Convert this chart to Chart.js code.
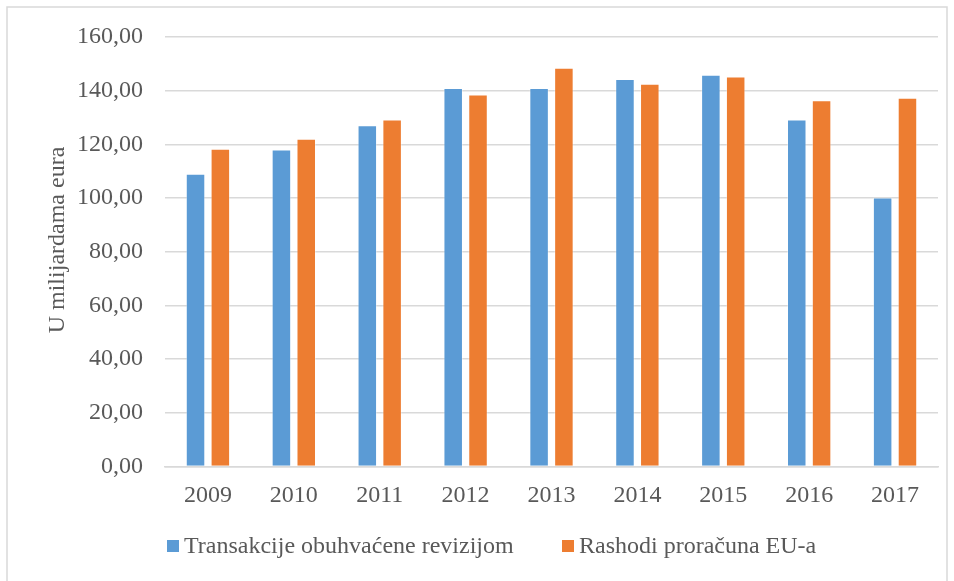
<!DOCTYPE html>
<html>
<head>
<meta charset="utf-8">
<script src="https://cdn.jsdelivr.net/npm/chart.js"></script>
<style>
  html, body { margin: 0; padding: 0; background: #ffffff; }
  #wrap { position: relative; width: 954px; height: 581px; }
</style>
</head>
<body>
<div id="wrap"><canvas id="chart" width="954" height="581"></canvas></div>
<script>
const YEARS = ["2009", "2010", "2011", "2012", "2013", "2014", "2015", "2016", "2017"];
const AUDITED = [109.1, 118.1, 127.1, 141.0, 141.0, 144.4, 145.9, 129.3, 100.2];
const EU_BUDGET = [118.4, 122.1, 129.3, 138.6, 148.5, 142.6, 145.3, 136.4, 137.4];
const SERIES_NAMES = ["Transakcije obuhvaćene revizijom", "Rashodi proračuna EU-a"];
const Y_TICK_LABELS = ["0,00", "20,00", "40,00", "60,00", "80,00", "100,00", "120,00", "140,00", "160,00"];
const Y_TITLE = "U milijardama eura";

const BLUE = "#5b9bd5";
const ORANGE = "#ed7d31";
const TEXT = "#595959";
const GRID = "#d9d9d9";
const FONT = "'Liberation Serif', 'Times New Roman', serif";

// frame, rotated axis title and legend, drawn by hand to sit where the original has them
const decorations = {
  id: "decorations",
  beforeDraw(chart) {
    const ctx = chart.ctx;
    ctx.save();
    ctx.strokeStyle = GRID;
    ctx.lineWidth = 1.5;
    ctx.strokeRect(7, 7, 940, 590);
    ctx.restore();
  },
  afterDraw(chart) {
    const ctx = chart.ctx;
    ctx.save();
    ctx.fillStyle = TEXT;
    ctx.font = `24px ${FONT}`;
    ctx.translate(58, 240);
    ctx.rotate(-Math.PI / 2);
    ctx.textAlign = "center";
    ctx.textBaseline = "middle";
    ctx.fillText(Y_TITLE, 0, 0);
    ctx.restore();

    const items = [
      { box: 167, text: 184 },
      { box: 562, text: 579 },
    ];
    ctx.save();
    ctx.font = `24px ${FONT}`;
    ctx.textBaseline = "middle";
    chart.data.datasets.forEach((ds, i) => {
      ctx.fillStyle = ds.backgroundColor;
      ctx.fillRect(items[i].box, 540, 12, 12);
      ctx.fillStyle = TEXT;
      ctx.fillText(ds.label, items[i].text, 547);
    });
    ctx.restore();
  },
};

new Chart(document.getElementById("chart"), {
  type: "bar",
  data: {
    labels: YEARS,
    datasets: [
      {
        label: SERIES_NAMES[0],
        data: AUDITED,
        backgroundColor: BLUE,
        borderColor: "rgba(255,255,255,0.35)",
        borderWidth: 1,
      },
      {
        label: SERIES_NAMES[1],
        data: EU_BUDGET,
        backgroundColor: ORANGE,
        borderColor: "rgba(255,255,255,0.35)",
        borderWidth: 1,
      },
    ],
  },
  options: {
    responsive: false,
    animation: false,
    devicePixelRatio: 1,
    layout: { padding: { top: 37, right: 16, bottom: 0, left: 0 } },
    datasets: { bar: { categoryPercentage: 0.578, barPercentage: 0.786 } },
    plugins: {
      legend: { display: false },
      tooltip: { enabled: false },
    },
    scales: {
      x: {
        grid: { display: false, drawTicks: false },
        border: { color: GRID, width: 1.5 },
        ticks: { color: TEXT, font: { family: FONT, size: 24 }, padding: 15, maxRotation: 0 },
        afterFit(scale) { scale.height = 114.5; },
      },
      y: {
        min: 0,
        max: 160,
        grid: { color: GRID, lineWidth: 1.5, drawTicks: false },
        border: { display: false },
        ticks: {
          stepSize: 20,
          color: TEXT,
          font: { family: FONT, size: 24 },
          padding: 22,
          callback: (v, i) => Y_TICK_LABELS[i],
        },
        afterFit(scale) { scale.width = 165; },
      },
    },
  },
  plugins: [decorations],
});
</script>
</body>
</html>
